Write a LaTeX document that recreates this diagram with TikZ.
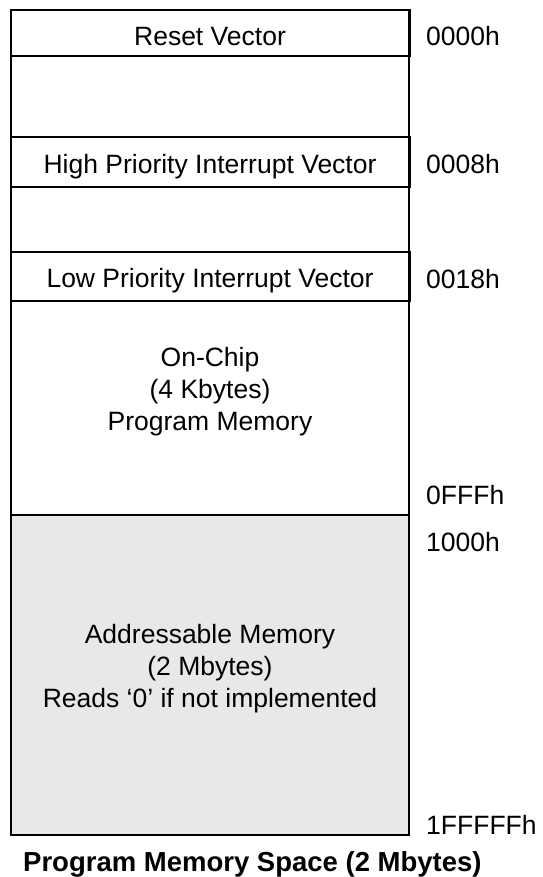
\documentclass[tikz,border=0pt]{standalone}
\usepackage{fontspec}
\setmainfont{Liberation Sans}
\definecolor{memgray}{RGB}{232,232,232}
\begin{document}
\begin{tikzpicture}[x=1pt,y=-1pt,
  frame/.style={draw=black,line width=1.5pt},
  cell/.style={font=\fontsize{26.5}{32}\selectfont,align=center,inner sep=0pt},
  addr/.style={font=\fontsize{26.5}{32}\selectfont,anchor=base west,inner sep=0pt},
  caption/.style={font=\fontsize{27.5}{32}\selectfont\bfseries,anchor=base west,inner sep=0pt}]
  \useasboundingbox (0,0) rectangle (542,877);

  % external (unimplemented) area shaded grey
  \fill[memgray] (11,515) rectangle (409,835);

  % whole program memory column
  \draw[frame] (11,10) rectangle (409,835);
  % vector slots
  \draw[frame] (11,10) rectangle (410.5,56);
  \draw[frame] (11,137) rectangle (410.5,187);
  \draw[frame] (11,252) rectangle (410.5,301);
  % boundary between on-chip and addressable memory
  \draw[frame] (11,515) -- (409,515);

  % region texts
  \node[cell,anchor=base] (reset) at (210,46) {Reset Vector};
  \node[cell,anchor=base] (high) at (210,174) {High Priority Interrupt Vector};
  \node[cell,anchor=base] (low) at (210,287) {Low Priority Interrupt Vector};
  \node[cell] (onchip) at (210,392) {On-Chip\\(4 Kbytes)\\Program Memory};
  \node[cell] (addrmem) at (210,669) {Addressable Memory\\(2 Mbytes)\\Reads ‘0’ if not implemented};

  % addresses
  \node[addr] (a0000) at (426,46) {0000h};
  \node[addr] (a0008) at (426,174) {0008h};
  \node[addr] (a0018) at (426,288) {0018h};
  \node[addr] (a0fff) at (426,504) {0FFFh};
  \node[addr] (a1000) at (426,551) {1000h};
  \node[addr] (a1fffff) at (426,834) {1FFFFFh};

  % caption
  \node[caption] (title) at (23,871) {Program Memory Space (2 Mbytes)};
\end{tikzpicture}
\end{document}
